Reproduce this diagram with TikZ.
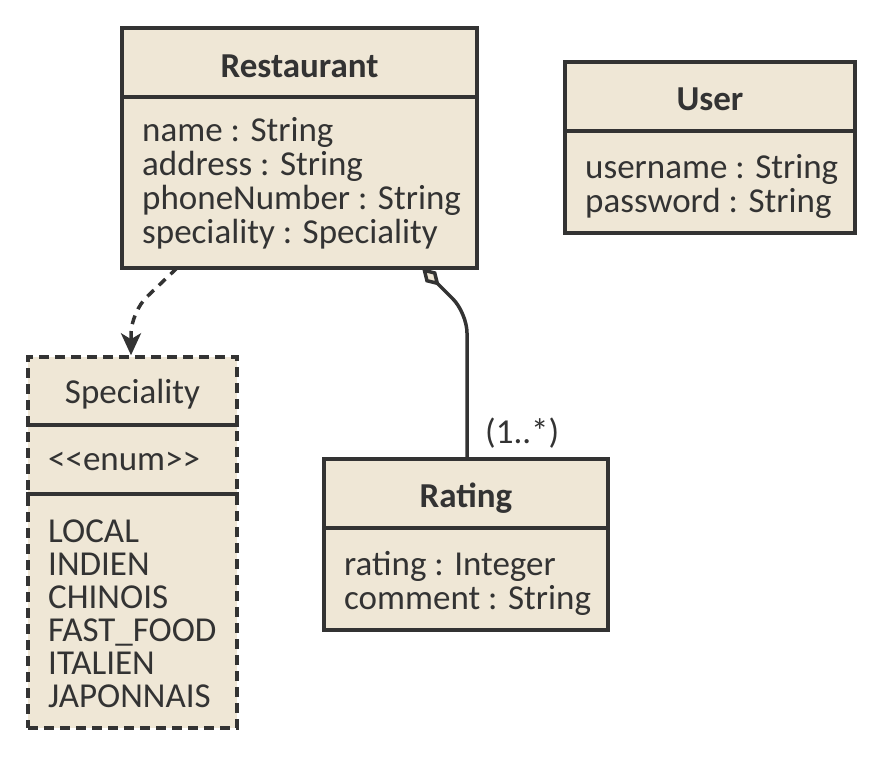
\documentclass[tikz,border=0pt]{standalone}
\usepackage{fontspec}
\setmainfont{Carlito}
\usetikzlibrary{arrows.meta}

\definecolor{boxfill}{HTML}{EFE7D6}
\definecolor{inkc}{HTML}{333333}
\newcommand{\classfont}{\fontsize{35}{34}\selectfont}
\newcommand{\listfont}{\fontsize{35}{33}\selectfont}

\begin{document}
\begin{tikzpicture}[x=1pt,y=-1pt,
    classbox/.style={draw=inkc,fill=boxfill,line width=3.5pt,inner sep=0pt},
    enumbox/.style={classbox,dash pattern=on 10pt off 6pt},
    txt/.style={inner sep=0pt,text=inkc,font=\classfont},
    title/.style={txt,anchor=base,font=\classfont\bfseries},
    attrs/.style={txt,anchor=base west,align=left},
    divider/.style={draw=inkc,line width=3.5pt},
    depline/.style={draw=inkc,line width=3.5pt,dash pattern=on 9pt off 7pt,
      rounded corners=22pt,-{Stealth[length=22pt,width=20pt,inset=6pt]}},
    aggline/.style={draw=inkc,line width=3.5pt,rounded corners=20pt,
      {Diamond[open,fill=boxfill,length=25pt,width=15pt]}-}]
  %\draw[help lines] (0,0) grid[step=50pt] (883,758);
  \useasboundingbox (0,0) rectangle (883,758);

  \draw (299.5,148) node[classbox,minimum width=355pt,minimum height=240pt](restaurant) {};
  \draw (710,147.5) node[classbox,minimum width=290pt,minimum height=171pt](user) {};
  \draw (132.5,542.5) node[enumbox,minimum width=209pt,minimum height=371pt](speciality) {};
  \draw (466,544.5) node[classbox,minimum width=284pt,minimum height=171pt](rating) {};

  \path[divider] (restaurant.west |- 0,97) -- (restaurant.east |- 0,97);
  \path[divider] (user.west |- 0,131) -- (user.east |- 0,131);
  \path[divider] (speciality.west |- 0,425) -- (speciality.east |- 0,425);
  \path[divider] (speciality.west |- 0,494) -- (speciality.east |- 0,494);
  \path[divider] (rating.west |- 0,528) -- (rating.east |- 0,528);

  % multi-line nodes: base is the last line
  \draw (299.5,77) node[title](restTitle) {Restaurant};
  \draw (142,243) node[attrs](restAttrs) {name : String\\address : String\\phoneNumber : String\\speciality : Speciality};

  \draw (710,110) node[title](userTitle) {User};
  \draw (585,212) node[attrs](userAttrs) {username : String\\password : String};

  \draw (132.5,403) node[title,font=\classfont](specTitle) {Speciality};
  \draw (48,470) node[attrs](specStereo) {<{}<enum>{}>};
  \draw (48,707) node[attrs,font=\listfont](specValues) {LOCAL\\INDIEN\\CHINOIS\\FAST\_FOOD\\ITALIEN\\JAPONNAIS};

  \draw (466,507) node[title](ratingTitle) {Rating};
  \draw (344,609) node[attrs](ratingAttrs) {rating : Integer\\comment : String};

  \coordinate (depStart) at (177,268);
  \coordinate (depBend) at (131,312);
  \path[depline] (depStart) -- (depBend) -- (speciality.north -| depBend);

  \coordinate (aggStart) at (422,268);
  \coordinate (aggBend) at (467,313);
  \path[aggline] (aggStart) -- (aggBend) -- (rating.north -| aggBend);
  \draw (485,443) node[txt,anchor=base west](mult) {(1..*)};

\end{tikzpicture}
\end{document}
